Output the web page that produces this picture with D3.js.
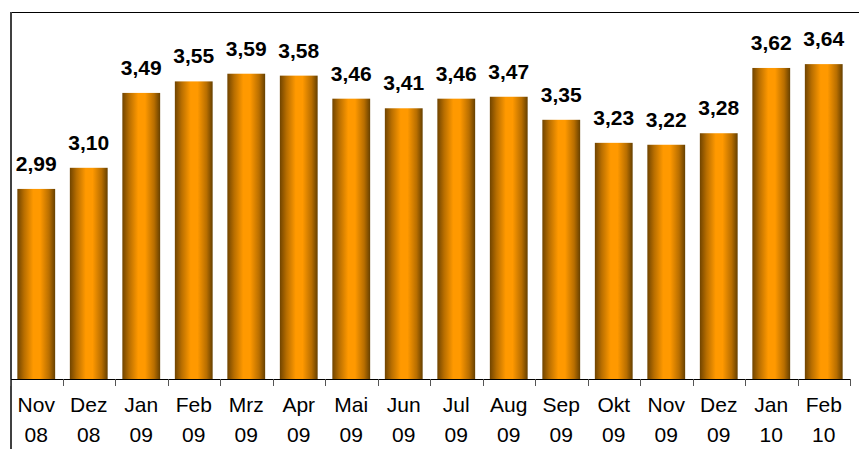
<!DOCTYPE html>
<html>
  <head>
    <meta charset="utf-8">
    <style>
    body { margin: 0; background: #fff; }
    svg { display: block; font-family: "Liberation Sans", Arial, sans-serif; }
    .value { font-weight: bold; font-size: 21px; fill: #000; }
    .cat { font-size: 21px; fill: #000; }
    </style>
  </head>
  <body>
    <script src="https://d3js.org/d3.v7.min.js"></script>
    <script>

    // data
    var months = ["Nov", "Dez", "Jan", "Feb", "Mrz", "Apr", "Mai", "Jun", "Jul", "Aug", "Sep", "Okt", "Nov", "Dez", "Jan", "Feb"];
    var years  = ["08", "08", "09", "09", "09", "09", "09", "09", "09", "09", "09", "09", "09", "09", "10", "10"];
    var values = [2.99, 3.10, 3.49, 3.55, 3.59, 3.58, 3.46, 3.41, 3.46, 3.47, 3.35, 3.23, 3.22, 3.28, 3.62, 3.64];

    var width = 859, height = 451;
    var left = 10, right = 850, axisY = 379;

    var svg = d3.select("body").append("svg")
        .attr("width", width)
        .attr("height", height);

    // bar gradient: dark edges, bright orange middle
    var grad = svg.append("defs").append("linearGradient")
        .attr("id", "barGrad")
        .attr("x1", "0%").attr("x2", "100%")
        .attr("y1", "0%").attr("y2", "0%");
    grad.append("stop").attr("offset", "0%").attr("stop-color", "#704400");
    grad.append("stop").attr("offset", "18%").attr("stop-color", "#b86e00");
    grad.append("stop").attr("offset", "42%").attr("stop-color", "#ff9900");
    grad.append("stop").attr("offset", "60%").attr("stop-color", "#ff9900");
    grad.append("stop").attr("offset", "84%").attr("stop-color", "#b86e00");
    grad.append("stop").attr("offset", "100%").attr("stop-color", "#664000");

    var idx = d3.range(values.length);

    var x = d3.scaleBand()
        .domain(idx)
        .range([left, right])
        .paddingInner(0.28)
        .paddingOuter(0.14);

    // axis doesn't start at zero
    var y = d3.scaleLinear()
        .domain([2, 4])
        .range([axisY, -5]);

    // frame (top and left only visible)
    svg.append("line")
        .attr("x1", 11).attr("x2", width)
        .attr("y1", 12.5).attr("y2", 12.5)
        .attr("stroke", "#000").attr("stroke-width", 1.2);
    svg.append("line")
        .attr("x1", 11).attr("x2", 11)
        .attr("y1", 12).attr("y2", 449)
        .attr("stroke", "#404040").attr("stroke-width", 2);

    // bars
    svg.selectAll("rect.bar")
        .data(idx)
        .enter().append("rect")
        .attr("class", "bar")
        .attr("x", function(i) { return x(i); })
        .attr("width", x.bandwidth())
        .attr("y", function(i) { return y(values[i]); })
        .attr("height", function(i) { return axisY - y(values[i]); })
        .attr("fill", "url(#barGrad)");

    // value labels
    svg.selectAll("text.value")
        .data(idx)
        .enter().append("text")
        .attr("class", "value")
        .attr("text-anchor", "middle")
        .attr("x", function(i) { return x(i) + x.bandwidth() / 2; })
        .attr("y", function(i) { return y(values[i]) - 18; })
        .text(function(i) { return values[i].toFixed(2).replace(".", ","); });

    // x axis line + ticks between categories
    var step = (right - left) / values.length;
    svg.append("line")
        .attr("x1", left).attr("x2", right)
        .attr("y1", axisY + 0.5).attr("y2", axisY + 0.5)
        .attr("stroke", "#000");
    svg.selectAll("line.tick")
        .data(d3.range(values.length + 1))
        .enter().append("line")
        .attr("class", "tick")
        .attr("x1", function(k) { return Math.round(left + k * step) + 0.5; })
        .attr("x2", function(k) { return Math.round(left + k * step) + 0.5; })
        .attr("y1", axisY).attr("y2", axisY + 7)
        .attr("stroke", "#555");

    // category labels, two lines
    var cats = svg.selectAll("text.cat")
        .data(idx)
        .enter().append("text")
        .attr("class", "cat")
        .attr("text-anchor", "middle");
    cats.append("tspan")
        .attr("x", function(i) { return x(i) + x.bandwidth() / 2; })
        .attr("y", 412)
        .text(function(i) { return months[i]; });
    cats.append("tspan")
        .attr("x", function(i) { return x(i) + x.bandwidth() / 2; })
        .attr("y", 442)
        .text(function(i) { return years[i]; });

    </script>
  </body>
</html>
